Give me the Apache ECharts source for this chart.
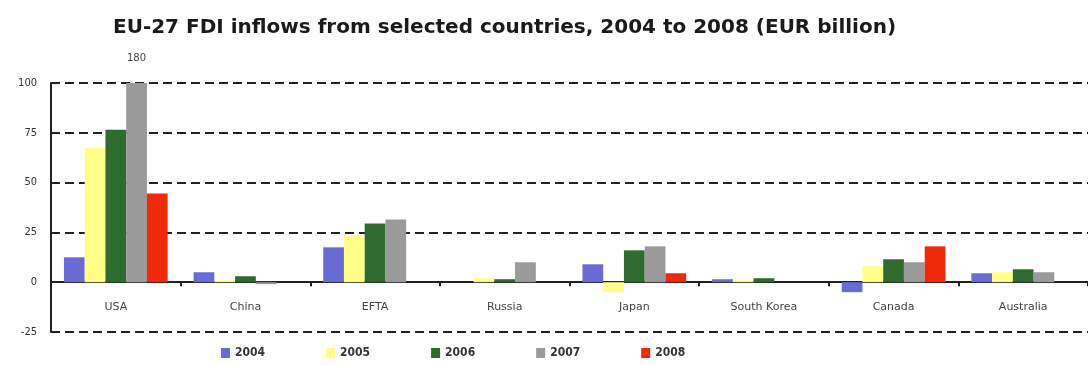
<!DOCTYPE html>
<html>
<head>
<meta charset="utf-8">
<script src="https://cdn.jsdelivr.net/npm/echarts@6/dist/echarts.min.js"></script>
<style>
  html, body { margin: 0; padding: 0; background: #ffffff; }
  #chart { width: 1088px; height: 365px; }
</style>
</head>
<body>
<div id="chart"></div>
<script>
// EU-27 FDI inflows by partner, EUR billion
const countries = ['USA', 'China', 'EFTA', 'Russia', 'Japan', 'South Korea', 'Canada', 'Australia'];
const years = ['2004', '2005', '2006', '2007', '2008'];
const v2004 = [12.5, 5, 17.5, 0, 9, 1.5, -5, 4.5];
const v2005 = [67.5, 1, 23.5, 2, -5, 1, 8, 5];
const v2006 = [76.5, 3, 29.5, 1.5, 16, 2, 11.5, 6.5];
const v2007 = [180, -1, 31.5, 10, 18, 0, 10, 5];
const v2008 = [44.5, 0, 0, 0, 4.5, 0, 18, 0];
const yearColors = ['#6b6bd6', '#ffff88', '#2f6b2f', '#9a9a9a', '#ee2a0a'];
const yTicks = { min: -25, max: 100, step: 25 };

const valueSets = [v2004, v2005, v2006, v2007, v2008];

const chart = echarts.init(document.getElementById('chart'));

const series = years.map((yr, i) => ({
  name: yr,
  type: 'bar',
  clip: true,
  barGap: '0%',
  barCategoryGap: '20%',
  itemStyle: { color: yearColors[i] },
  data: valueSets[i].map(v => {
    // values above the axis ceiling are clipped and get their value printed on top
    if (v > yTicks.max) {
      return {
        value: v,
        label: {
          show: true, position: 'top', distance: 20,
          fontFamily: 'DejaVu Sans', fontSize: 10, color: '#444'
        }
      };
    }
    return v;
  })
}));

chart.setOption({
  animation: false,
  title: {
    text: 'EU-27 FDI inflows from selected countries, 2004 to 2008 (EUR billion)',
    left: 113, top: 18, padding: 0,
    textStyle: { fontFamily: 'DejaVu Sans', fontWeight: 'bold', fontSize: 20, color: '#1a1a1a' }
  },
  legend: {
    data: years,
    left: 216, top: 342,
    itemWidth: 9, itemHeight: 10, itemGap: 61,
    icon: 'rect',
    textStyle: { fontFamily: 'DejaVu Sans Condensed', fontSize: 12, fontWeight: 'bold', color: '#333' }
  },
  grid: { left: 51, right: -10, top: 83, bottom: 33 },
  xAxis: {
    type: 'category',
    data: countries,
    axisLine: { onZero: true, lineStyle: { color: '#222', width: 2 } },
    axisTick: { show: true, length: 4, lineStyle: { color: '#222', width: 2 } },
    axisLabel: { margin: -30, fontFamily: 'DejaVu Sans', fontSize: 11, color: '#444' }
  },
  yAxis: {
    type: 'value',
    min: yTicks.min, max: yTicks.max, interval: yTicks.step,
    axisLine: { show: true, lineStyle: { color: '#222', width: 2 } },
    axisTick: { show: false },
    axisLabel: { margin: 14, fontFamily: 'DejaVu Sans Condensed', fontSize: 11, color: '#333' },
    splitLine: { show: true, lineStyle: { color: '#222', width: 2, type: [9, 5] } }
  },
  series: series
});
</script>
</body>
</html>
